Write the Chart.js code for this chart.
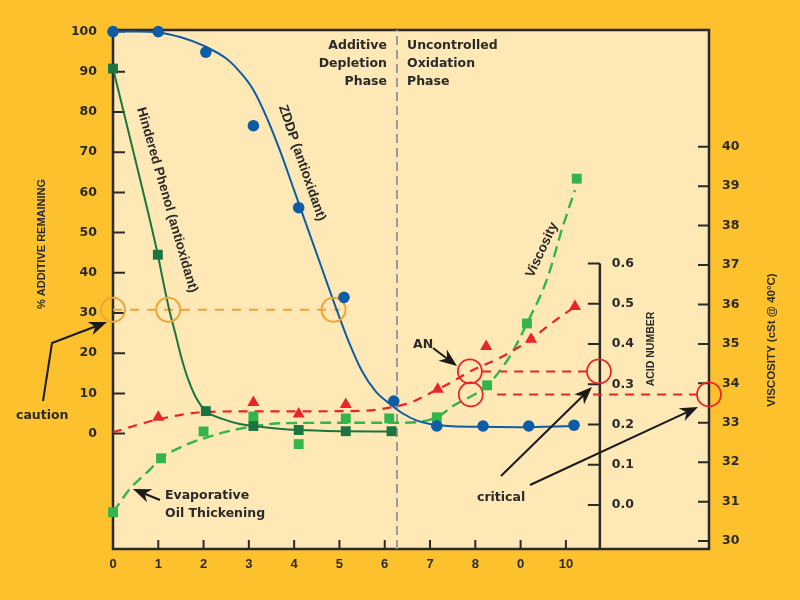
<!DOCTYPE html>
<html>
<head>
<meta charset="utf-8">
<title>Additive depletion and oxidation</title>
<script src="https://cdn.jsdelivr.net/npm/chart.js@4.4.1/dist/chart.umd.min.js"></script>
<style>
  body { margin: 0; background: #fcc12c; }
  #wrap { width: 800px; height: 600px; position: relative; }
</style>
</head>
<body>
<div id="wrap"><canvas id="myChart"></canvas></div>
<script>
// axis ticks
const X_TICKS = [0, 1, 2, 3, 4, 5, 6, 7, 8, 9, 10];
const X_TICK_LABELS = ['0', '1', '2', '3', '4', '5', '6', '7', '8', '0', '10'];
const LEFT_TICKS = [0, 10, 20, 30, 40, 50, 60, 70, 80, 90, 100];
const VISC_TICKS = [30, 31, 32, 33, 34, 35, 36, 37, 38, 39, 40];
const AN_TICKS = [0, 0.1, 0.2, 0.3, 0.4, 0.5, 0.6];

// ZDDP (antioxidant), % remaining
const zddpX = [0, 1, 2.05, 3.1, 4.1, 5.1, 6.2, 7.15, 8.17, 9.18, 10.18];
const zddpY = [100, 100, 94.9, 76.6, 56.2, 33.9, 8.1, 1.9, 1.9, 1.9, 2.1];
const zddpFitX = [0, 0.5, 1, 1.5, 2, 2.5, 2.8, 3.1, 3.4, 3.7, 4.0, 4.3, 4.6, 4.9, 5.2, 5.5, 5.8, 6.1, 6.4, 6.7, 7.0, 7.4, 8, 9, 10.18];
const zddpFitY = [100, 100, 99.8, 98.6, 96.5, 93.3, 90, 85.5, 78.5, 70, 60.5, 51, 41.5, 32, 23, 15.5, 10.5, 7.5, 5, 3.3, 2.4, 1.9, 1.7, 1.6, 1.9];

// Hindered Phenol (antioxidant), % remaining
const phenolX = [0, 0.99, 2.05, 3.1, 4.1, 5.14, 6.15];
const phenolY = [90.8, 44.5, 5.6, 1.9, 0.9, 0.6, 0.6];
const phenolFitX = [0, 0.5, 0.99, 1.1, 1.24, 1.37, 1.52, 1.66, 1.85, 2.05, 2.43, 2.8, 3.1, 3.6, 4.1, 5.1, 6.15];
const phenolFitY = [90.8, 67.8, 44.5, 38.3, 30.9, 25.2, 18.5, 13.5, 8.6, 5.6, 3.6, 2.4, 1.9, 1.3, 0.9, 0.6, 0.5];

// viscosity, cSt @ 40°C
const viscX = [0, 1.06, 2.0, 3.1, 4.1, 5.14, 6.1, 7.15, 8.26, 9.14, 10.24];
const viscY = [30.73, 32.10, 32.78, 33.16, 32.46, 33.11, 33.11, 33.14, 33.95, 35.52, 39.19];
const viscFitX = [0, 0.37, 0.82, 1.06, 1.55, 2.3, 3.0, 3.75, 5, 6.3, 7.15, 7.5, 8.26, 8.76, 9.14, 9.58, 9.93, 10.2];
const viscFitY = [30.73, 31.32, 31.82, 32.1, 32.41, 32.71, 32.89, 32.99, 33.0, 33.0, 33.14, 33.42, 33.95, 34.68, 35.52, 36.63, 37.97, 38.9];

// acid number
const anX = [1.0, 3.1, 4.1, 5.14, 7.17, 8.24, 9.23, 10.2];
const anY = [0.218, 0.255, 0.226, 0.250, 0.288, 0.394, 0.412, 0.493];
const anFitX = [0, 1.0, 1.9, 3, 4, 5.5, 6.15, 6.6, 7.0, 7.5, 7.88, 8.6, 9.2, 9.71, 10.2];
const anFitY = [0.181, 0.213, 0.230, 0.233, 0.233, 0.234, 0.243, 0.256, 0.278, 0.307, 0.332, 0.369, 0.41, 0.454, 0.493];

// caution / critical limits
const cautionLevel = 30.8;
const cautionLineX = [0, 5.0];
const cautionCircleX = [0, 1.22, 4.87];
const anCritical = 0.332;
const anCritLineX = [8.15, 10.46];
const anCritCircleX = [7.88, 10.73];
const viscCritical = 33.72;
const viscCritLineX = [8.48, 12.9];
const viscCritCircleX = [7.9, 13.16];

const PHASE_X = 6.27;      // additive depletion / uncontrolled oxidation
const AN_AXIS_AT = 10.75;  // where the acid number axis stands on x
const X_MAX = 13.16;

const BLUE = '#0d5ca6';
const DKGREEN = '#1a7540';
const LTGREEN = '#33b54b';
const RED = '#e8252b';
const ORANGE = '#f0a43a';
const INK = '#2a2a2a';

function pts(xs, ys) {
  return xs.map(function(x, i) { return {x: x, y: ys[i]}; });
}
function flat(xs, v) {
  return xs.map(function(x) { return {x: x, y: v}; });
}

const chartBg = {
  id: 'chartBg',
  beforeDraw(chart) {
    const ctx = chart.ctx, a = chart.chartArea;
    ctx.save();
    ctx.fillStyle = '#fcc12c';
    ctx.fillRect(0, 0, chart.width, chart.height);
    ctx.fillStyle = '#fee8b5';
    ctx.fillRect(a.left, a.top, a.right - a.left, a.bottom - a.top);
    ctx.restore();
  }
};

// put the acid number axis inside the plot
const moveAcidAxis = {
  id: 'moveAcidAxis',
  afterLayout(chart) {
    const s = chart.scales.an;
    const px = chart.scales.x.getPixelForValue(AN_AXIS_AT);
    s.left = px;
    s.right = px + 60;
    s.width = 60;
  }
};

// frame, axis lines and inward tick marks
const frame = {
  id: 'frame',
  beforeDatasetsDraw(chart) {
    const ctx = chart.ctx, a = chart.chartArea, sc = chart.scales;
    ctx.save();
    ctx.strokeStyle = INK;
    ctx.lineWidth = 2.5;
    ctx.strokeRect(a.left, a.top, a.right - a.left, a.bottom - a.top);
    const ax = sc.x.getPixelForValue(AN_AXIS_AT);
    ctx.beginPath();
    ctx.moveTo(ax, sc.an.getPixelForValue(0.6));
    ctx.lineTo(ax, a.bottom);
    ctx.stroke();
    ctx.lineWidth = 2;
    ctx.beginPath();
    LEFT_TICKS.forEach(function(v) {
      const y = sc.y.getPixelForValue(v);
      ctx.moveTo(a.left, y); ctx.lineTo(a.left + 12, y);
    });
    VISC_TICKS.forEach(function(v) {
      const y = sc.visc.getPixelForValue(v);
      ctx.moveTo(a.right, y); ctx.lineTo(a.right - 11, y);
    });
    AN_TICKS.forEach(function(v) {
      const y = sc.an.getPixelForValue(v);
      ctx.moveTo(ax, y); ctx.lineTo(ax - 12, y);
    });
    X_TICKS.forEach(function(v) {
      const x = sc.x.getPixelForValue(v);
      ctx.moveTo(x, a.bottom); ctx.lineTo(x, a.bottom - 9);
    });
    ctx.stroke();
    ctx.restore();
  }
};

function arrow(ctx, path) {
  const n = path.length;
  const tip = path[n - 1], prev = path[n - 2];
  const ang = Math.atan2(tip[1] - prev[1], tip[0] - prev[0]);
  const L = 18, W = 7;
  const bx = tip[0] - Math.cos(ang) * L * 0.7, by = tip[1] - Math.sin(ang) * L * 0.7;
  ctx.beginPath();
  ctx.moveTo(path[0][0], path[0][1]);
  for (let i = 1; i < n - 1; i++) ctx.lineTo(path[i][0], path[i][1]);
  ctx.lineTo(bx, by);
  ctx.stroke();
  const cx = tip[0] - Math.cos(ang) * L, cy = tip[1] - Math.sin(ang) * L;
  ctx.beginPath();
  ctx.moveTo(tip[0], tip[1]);
  ctx.lineTo(cx - Math.sin(ang) * W, cy + Math.cos(ang) * W);
  ctx.lineTo(bx, by);
  ctx.lineTo(cx + Math.sin(ang) * W, cy - Math.cos(ang) * W);
  ctx.closePath();
  ctx.fill();
}

function rotText(ctx, text, x, y, deg, font) {
  ctx.save();
  ctx.translate(x, y);
  ctx.rotate(deg * Math.PI / 180);
  ctx.font = font;
  ctx.textAlign = 'center';
  ctx.textBaseline = 'middle';
  ctx.fillText(text, 0, 0);
  ctx.restore();
}

const notes = {
  id: 'notes',
  afterDraw(chart) {
    const ctx = chart.ctx;
    ctx.save();
    ctx.fillStyle = INK;
    ctx.strokeStyle = '#1a1a1a';
    ctx.lineWidth = 2;
    ctx.font = 'bold 12.5px "DejaVu Sans"';
    ctx.textBaseline = 'alphabetic';
    ctx.textAlign = 'right';
    ctx.fillText('Additive', 387, 49);
    ctx.fillText('Depletion', 387, 67);
    ctx.fillText('Phase', 387, 85);
    ctx.textAlign = 'left';
    ctx.fillText('Uncontrolled', 407, 49);
    ctx.fillText('Oxidation', 407, 67);
    ctx.fillText('Phase', 407, 85);
    ctx.fillText('caution', 16, 419);
    ctx.fillText('Evaporative', 165, 499);
    ctx.fillText('Oil Thickening', 165, 517);
    ctx.fillText('AN', 413, 348);
    ctx.fillText('critical', 477, 501);

    const rf = 'bold 13.5px "Liberation Sans", Arial, sans-serif';
    rotText(ctx, 'Hindered Phenol (antioxidant)', 167, 200, 74, rf);
    rotText(ctx, 'ZDDP (antioxidant)', 302, 163, 71, rf);
    rotText(ctx, 'Viscosity', 542, 250, -65, rf);

    rotText(ctx, '% ADDITIVE REMAINING', 42, 244, -90, 'bold 11px "Liberation Sans", Arial, sans-serif');
    rotText(ctx, 'ACID NUMBER', 651, 349, -90, 'bold 10.5px "Liberation Sans", Arial, sans-serif');
    rotText(ctx, 'VISCOSITY (cSt @ 40°C)', 772, 340, -90, 'bold 11.5px "Liberation Sans", Arial, sans-serif');

    ctx.fillStyle = '#1a1a1a';
    arrow(ctx, [[43, 401], [52, 343], [107, 322]]);
    arrow(ctx, [[160, 500], [133, 489]]);
    arrow(ctx, [[433, 348], [457, 366]]);
    arrow(ctx, [[501, 476], [592, 387]]);
    arrow(ctx, [[530, 485], [698, 407]]);
    ctx.restore();
  }
};

const tickFont = {family: '"DejaVu Sans"', size: 12.5, weight: 'bold'};

const ctx = document.getElementById('myChart').getContext('2d');
const myChart = new Chart(ctx, {
  type: 'line',
  data: {
    datasets: [
      { label: 'ZDDP', data: pts(zddpX, zddpY), yAxisID: 'y', showLine: false, clip: false,
        pointStyle: 'circle', pointRadius: 5.8, backgroundColor: BLUE, borderColor: BLUE, borderWidth: 0 },
      { label: 'Hindered Phenol', data: pts(phenolX, phenolY), yAxisID: 'y', showLine: false, clip: false,
        pointStyle: 'rect', pointRadius: 7, backgroundColor: DKGREEN, borderColor: DKGREEN, borderWidth: 0 },
      { label: 'AN', data: pts(anX, anY), yAxisID: 'an', showLine: false, clip: false,
        pointStyle: 'triangle', pointRadius: 7, backgroundColor: RED, borderColor: RED, borderWidth: 0 },
      { label: 'Viscosity', data: pts(viscX, viscY), yAxisID: 'visc', showLine: false, clip: false,
        pointStyle: 'rect', pointRadius: 7, backgroundColor: LTGREEN, borderColor: LTGREEN, borderWidth: 0 },
      { label: 'caution marks', data: flat(cautionCircleX, cautionLevel), yAxisID: 'y', showLine: false, clip: false,
        pointRadius: 12, backgroundColor: 'rgba(0,0,0,0)', borderColor: ORANGE, pointBorderWidth: 2 },
      { label: 'AN critical marks', data: flat(anCritCircleX, anCritical), yAxisID: 'an', showLine: false, clip: false,
        pointRadius: 12, backgroundColor: 'rgba(0,0,0,0)', borderColor: RED, pointBorderWidth: 1.8 },
      { label: 'viscosity critical marks', data: flat(viscCritCircleX, viscCritical), yAxisID: 'visc', showLine: false, clip: false,
        pointRadius: 12, backgroundColor: 'rgba(0,0,0,0)', borderColor: RED, pointBorderWidth: 1.8 },
      { label: 'ZDDP fit', data: pts(zddpFitX, zddpFitY), yAxisID: 'y', pointRadius: 0,
        borderColor: BLUE, borderWidth: 2, cubicInterpolationMode: 'monotone', clip: false },
      { label: 'Hindered Phenol fit', data: pts(phenolFitX, phenolFitY), yAxisID: 'y', pointRadius: 0,
        borderColor: DKGREEN, borderWidth: 2, cubicInterpolationMode: 'monotone', clip: false },
      { label: 'AN fit', data: pts(anFitX, anFitY), yAxisID: 'an', pointRadius: 0,
        borderColor: RED, borderWidth: 2.2, borderDash: [9, 7], cubicInterpolationMode: 'monotone' },
      { label: 'Viscosity fit', data: pts(viscFitX, viscFitY), yAxisID: 'visc', pointRadius: 0,
        borderColor: LTGREEN, borderWidth: 2.4, borderDash: [11, 6], cubicInterpolationMode: 'monotone' },
      { label: 'caution level', data: flat(cautionLineX, cautionLevel), yAxisID: 'y', pointRadius: 0,
        borderColor: ORANGE, borderWidth: 2, borderDash: [9, 8] },
      { label: 'AN critical', data: flat(anCritLineX, anCritical), yAxisID: 'an', pointRadius: 0,
        borderColor: RED, borderWidth: 2, borderDash: [9, 7] },
      { label: 'viscosity critical', data: flat(viscCritLineX, viscCritical), yAxisID: 'visc', pointRadius: 0,
        borderColor: RED, borderWidth: 2, borderDash: [9, 7] },
      { label: 'phase', data: [{x: PHASE_X, y: -28.7}, {x: PHASE_X, y: 100.4}], yAxisID: 'y', pointRadius: 0,
        borderColor: '#9a9a9a', borderWidth: 2, borderDash: [9, 5] }
    ]
  },
  options: {
    responsive: true,
    maintainAspectRatio: false,
    animation: false,
    events: [],
    layout: { padding: { top: 30, left: 0, right: 0, bottom: 0 } },
    plugins: { legend: { display: false }, tooltip: { enabled: false } },
    scales: {
      x: {
        type: 'linear', position: 'bottom', min: 0, max: X_MAX,
        grid: { display: false, drawTicks: false }, border: { display: false },
        afterFit: function(s) { s.height = 51; },
        afterBuildTicks: function(s) { s.ticks = X_TICKS.map(function(v) { return {value: v}; }); },
        ticks: { padding: 8, color: INK, autoSkip: false, maxRotation: 0,
          font: {family: '"Liberation Sans", Arial, sans-serif', size: 13, weight: 'bold'},
          callback: function(v, i) { return X_TICK_LABELS[i]; } }
      },
      y: {
        position: 'left', min: -28.7, max: 100.4,
        grid: { display: false, drawTicks: false }, border: { display: false },
        afterFit: function(s) { s.width = 113; },
        afterBuildTicks: function(s) { s.ticks = LEFT_TICKS.map(function(v) { return {value: v}; }); },
        ticks: { padding: 16, color: INK, autoSkip: false, font: tickFont,
          callback: function(v) { return String(v); } }
      },
      visc: {
        position: 'right', min: 29.8, max: 42.96,
        grid: { display: false, drawTicks: false }, border: { display: false },
        afterFit: function(s) { s.width = 91; },
        afterBuildTicks: function(s) { s.ticks = VISC_TICKS.map(function(v) { return {value: v}; }); },
        ticks: { padding: 13, color: INK, autoSkip: false, font: tickFont,
          callback: function(v) { return String(v); } }
      },
      an: {
        position: 'right', min: -0.109, max: 1.18,
        grid: { display: false, drawTicks: false }, border: { display: false },
        afterFit: function(s) { s.width = 0; },
        afterBuildTicks: function(s) { s.ticks = AN_TICKS.map(function(v) { return {value: v}; }); },
        ticks: { padding: 12, color: INK, autoSkip: false, font: tickFont,
          callback: function(v) { return v.toFixed(1); } }
      }
    }
  },
  plugins: [chartBg, moveAcidAxis, frame, notes]
});
</script>
</body>
</html>
